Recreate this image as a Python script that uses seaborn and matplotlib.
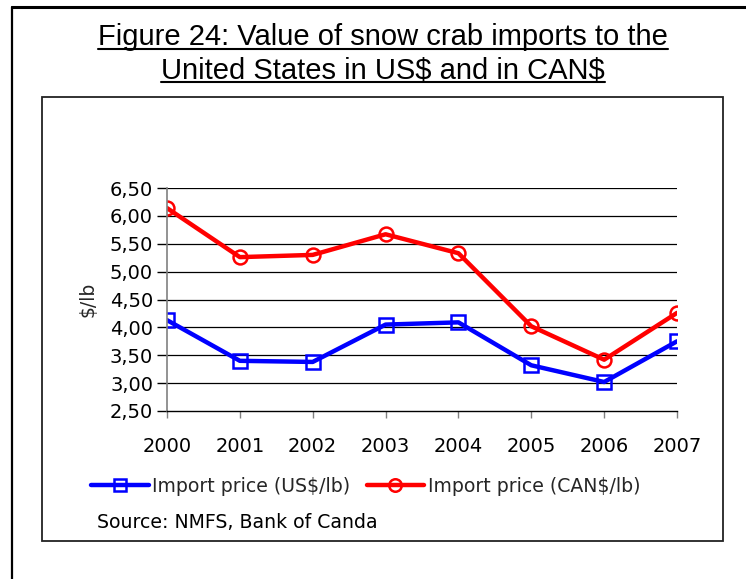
import matplotlib
matplotlib.use("Agg")
import matplotlib.pyplot as plt
from matplotlib.patches import Rectangle
from matplotlib.lines import Line2D
from matplotlib.ticker import FuncFormatter, FixedLocator
import seaborn as sns
import pandas as pd

years = ["2000", "2001", "2002", "2003", "2004", "2005", "2006", "2007"]
price_usd = [4.13, 3.40, 3.38, 4.05, 4.09, 3.32, 3.02, 3.75]
price_cad = [6.14, 5.26, 5.30, 5.67, 5.33, 4.02, 3.42, 4.26]
series_names = ["Import price (US\\$/lb)", "Import price (CAN\\$/lb)"]
y_ticks = [2.5, 3.0, 3.5, 4.0, 4.5, 5.0, 5.5, 6.0, 6.5]

df = pd.DataFrame({
    "year": list(range(len(years))) * 2,
    "price": price_usd + price_cad,
    "series": [series_names[0]] * len(years) + [series_names[1]] * len(years),
})

sns.set_theme(style="white")
plt.rcParams["font.family"] = ["DejaVu Sans"]

W, H = 746, 579
fig = plt.figure(figsize=(W / 100, H / 100), dpi=100)

def fx(x):
    return x / W

def fy(y):
    return 1 - y / H

# outer frame (top and left edges visible)
fig.add_artist(Line2D([fx(12), fx(750)], [fy(7), fy(7)], color="black", lw=2.2, transform=fig.transFigure))
fig.add_artist(Line2D([fx(12), fx(12)], [fy(7), fy(585)], color="black", lw=1.6, transform=fig.transFigure))

# inner chart box
fig.add_artist(Rectangle((fx(42), fy(541)), fx(723) - fx(42), fy(97) - fy(541),
                         fill=False, edgecolor="#222222", lw=1.3, transform=fig.transFigure))

# title, underlined
title_lines = ["Figure 24: Value of snow crab imports to the", "United States in US\\$ and in CAN\\$"]
title_y = [37, 70]
title_texts = []
for t, y in zip(title_lines, title_y):
    title_texts.append(fig.text(fx(383), fy(y), t, ha="center", va="center",
                                fontsize=21, family="Liberation Sans", color="black"))

ax = fig.add_axes([fx(167), fy(411), fx(677) - fx(167), fy(188) - fy(411)])
palette = {series_names[0]: "#0000FF", series_names[1]: "#FF0000"}
markers = {series_names[0]: "s", series_names[1]: "o"}
sns.lineplot(data=df, x="year", y="price", hue="series", style="series",
             palette=palette, markers=markers, dashes=False, lw=3.2,
             markersize=10, ax=ax, legend=False)
# hollow markers outlined in the series colour
for ln in ax.lines:
    ln.set_markerfacecolor("none")
    ln.set_markeredgecolor(ln.get_color())
    ln.set_markeredgewidth(1.8)

ax.set_xlim(0, len(years) - 1)
ax.set_ylim(2.5, 6.5)
ax.yaxis.set_major_locator(FixedLocator(y_ticks))
ax.yaxis.set_major_formatter(FuncFormatter(lambda v, p: f"{v:.2f}".replace(".", ",")))
ax.set_xticks(range(len(years)))
ax.set_xticklabels(years)
ax.set_xlabel("")
ax.set_ylabel("\\$/lb", fontsize=13.5, labelpad=9)
ax.grid(False)
for v in y_ticks[1:]:
    ax.axhline(v, color="black", lw=0.9, zorder=0)
for s in ["top", "right"]:
    ax.spines[s].set_visible(False)
ax.spines["left"].set_color("#808080")
ax.spines["left"].set_linewidth(1.2)
ax.spines["bottom"].set_color("black")
ax.spines["bottom"].set_linewidth(1.0)
ax.tick_params(axis="y", direction="out", length=7, width=1.0, color="black",
               labelsize=14, pad=3, left=True)
ax.tick_params(axis="x", direction="out", length=5, width=1.0, color="#808080",
               labelsize=14, pad=14, bottom=True)
for lbl in ax.get_xticklabels() + ax.get_yticklabels():
    lbl.set_color("black")

# legend
handles = [
    Line2D([], [], color="#0000FF", lw=3.2, marker="s", markersize=9,
           markerfacecolor="none", markeredgewidth=1.8),
    Line2D([], [], color="#FF0000", lw=3.2, marker="o", markersize=9,
           markerfacecolor="none", markeredgewidth=1.8),
]
fig.legend(handles, series_names, loc="center left",
           bbox_to_anchor=(fx(91), fy(486)), ncol=2, frameon=False,
           fontsize=13.6, handlelength=3.05, handletextpad=0.2, columnspacing=0.85,
           borderaxespad=0, borderpad=0)

fig.text(fx(97), fy(522), "Source: NMFS, Bank of Canda", ha="left", va="center",
         fontsize=13.6, color="black")

# underline the title lines
fig.canvas.draw()
renderer = fig.canvas.get_renderer()
inv = fig.transFigure.inverted()
for t in title_texts:
    bb = t.get_window_extent(renderer)
    (x0, y0), (x1, y1) = inv.transform([[bb.x0, bb.y0], [bb.x1, bb.y1]])
    yl = y0 + (y1 - y0) * 0.08
    fig.add_artist(Line2D([x0, x1], [yl, yl], color="black", lw=1.5, transform=fig.transFigure))

fig.savefig("out.png", dpi=100)
